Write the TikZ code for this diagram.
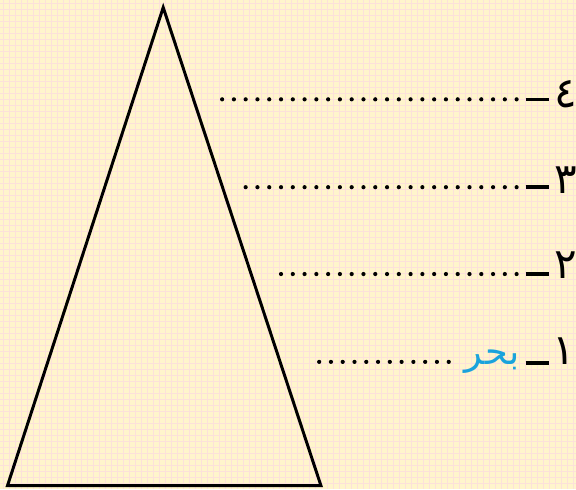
\documentclass[tikz,border=0pt]{standalone}
\usepackage{fontspec}
\newfontfamily\arabicfont[Script=Arabic]{DejaVu Sans}
\TeXXeTstate=1
\definecolor{paper}{HTML}{FFF5CC}
\definecolor{gridpink}{HTML}{FCE1DA}
\definecolor{seablue}{HTML}{1AA3DC}

\begin{document}
\begin{tikzpicture}[x=0.02cm,y=-0.02cm,
    numeral/.style={font=\arabicfont\fontsize{24}{24}\selectfont,anchor=base east,inner sep=0pt},
    bar/.style={line width=2pt},
    leaderdot/.style={fill=black}]
  % paper with a fine grid
  \fill[paper] (0,0) rectangle (576,489);
  \foreach \gx in {3.5,9.5,...,576}
    \draw[gridpink,line width=0.02cm] (\gx,0) -- (\gx,489);
  \foreach \gy in {3.5,9.5,...,489}
    \draw[gridpink,line width=0.02cm] (0,\gy) -- (576,\gy);
  \useasboundingbox (0,0) rectangle (576,489);
  % the triangle
  \coordinate (top) at (163,7);
  \coordinate (baseL) at (7,486);
  \coordinate (baseR) at (321,486);
  \draw[line width=1.7pt,line join=miter] (top) -- (baseL) -- (baseR) -- cycle;
  % row 4
  \node[numeral] (n4) at (578,107) {٤};
  \coordinate (b4) at (526,99);
  \draw[bar] (b4) -- ++(23,0);
  \foreach \i in {0,...,25}
    \fill[leaderdot] (517-\i*11.8,99) circle (2.1);
  % row 3
  \node[numeral] (n3) at (578,193) {٣};
  \coordinate (b3) at (526,187);
  \draw[bar] (b3) -- ++(23,0);
  \foreach \i in {0,...,23}
    \fill[leaderdot] (517-\i*11.8,187) circle (2.1);
  % row 2
  \node[numeral] (n2) at (578,278) {٢};
  \coordinate (b2) at (526,274);
  \draw[bar] (b2) -- ++(23,0);
  \foreach \i in {0,...,20}
    \fill[leaderdot] (517-\i*11.8,274) circle (2.1);
  % row 1 (filled in: bahr)
  \node[numeral] (n1) at (576,365) {١};
  \coordinate (b1) at (526,363);
  \draw[bar] (b1) -- ++(23,0);
  \node[numeral,font=\arabicfont\fontsize{21}{21}\selectfont,text=seablue] (word1) at (520,365) {\beginR بحر\endR};
  \foreach \i in {0,...,11}
    \fill[leaderdot] (449-\i*11.8,362) circle (2.1);
\end{tikzpicture}
\end{document}
